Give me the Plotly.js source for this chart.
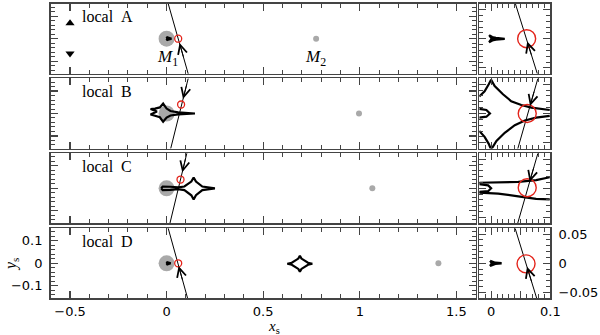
<!DOCTYPE html>
<html>
<head>
<meta charset="utf-8">
<script src="https://cdn.plot.ly/plotly-3.0.1.min.js"></script>
<style>
  html, body { margin: 0; padding: 0; background: #fff; }
  #plot { width: 600px; height: 335px; }
</style>
</head>
<body>
<div id="plot"></div>
<script>
// ---- values ----
const rowNames = ['local A', 'local B', 'local C', 'local D'];
const m1Pos = [0, 0];
const m2X = [0.774, 0.996, 1.065, 1.407];

const srcMainX = [0.06, 0.075, 0.072, 0.06];
const srcMainY = [0.0, 0.04, 0.039, 0.0];
const srcZoomX = [0.06, 0.061, 0.061, 0.059];
const srcZoomY = [0.0, 0.0, 0.001, -0.001];

const trajMainX = [[0.008, 0.112], [0.021, 0.112], [0.017, 0.105], [0.008, 0.109]];
const trajMainY = [[0.157, -0.157], [-0.157, 0.157], [-0.157, 0.157], [0.157, -0.157]];
const trajZoomX = [[0.041, 0.078], [0.044, 0.079], [0.044, 0.079], [0.0405, 0.077]];
const trajZoomY = [[0.06, -0.06], [-0.064, 0.06], [-0.063, 0.06], [0.06, -0.06]];

const arrowMainTip = [[0.067, -0.019], [0.085, 0.065], [0.081, 0.071], [0.062, -0.012]];
const arrowMainTail = [[0.089, -0.087], [0.106, 0.135], [0.1, 0.14], [0.084, -0.08]];
const arrowZoomTip = [[0.061, -0.005], [0.0657, 0.013], [0.065, 0.011], [0.0606, -0.006]];
const arrowZoomTail = [[0.0687, -0.03], [0.0733, 0.04], [0.0727, 0.038], [0.0694, -0.035]];

// planetary caustics of local A (two triangles)
const triX = [-0.5, -0.5];
const triY = [0.069, -0.066];

// central caustics, main panels
const cenAX = [0.026, 0.008, 0.0, 0.004, 0.0, 0.008, 0.026];
const cenAY = [0.0, 0.004, 0.007, 0.0, -0.007, -0.004, 0.0];
const cenDX = [0.022, 0.007, 0.0, 0.004, 0.0, 0.007, 0.022];
const cenDY = [0.0, 0.004, 0.006, 0.0, -0.006, -0.004, 0.0];

const causBX = [0.147, 0.06, 0.02, 0.0, -0.018, -0.035, -0.06, -0.083, -0.05, -0.083, -0.06, -0.035, -0.018, 0.0, 0.02, 0.06, 0.147];
const causBY = [0.0, 0.005, 0.011, 0.022, 0.044, 0.027, 0.022, 0.02, 0.009, -0.004, -0.01, -0.017, -0.037, -0.018, -0.009, -0.004, 0.0];

const causCX = [-0.028, -0.02, 0.02, 0.06, 0.092, 0.128, 0.14, 0.152, 0.185, 0.25, 0.185, 0.152, 0.14, 0.128, 0.092, 0.06, 0.02, -0.02, -0.028];
const causCY = [0.0, 0.008, 0.007, 0.004, 0.008, 0.03, 0.048, 0.03, 0.008, 0.0, -0.008, -0.031, -0.05, -0.031, -0.008, -0.004, -0.007, -0.008, 0.0];

const planDX = [0.755, 0.732, 0.698, 0.69, 0.682, 0.648, 0.625, 0.648, 0.682, 0.69, 0.698, 0.732, 0.755];
const planDY = [-0.002, 0.0025, 0.021, 0.034, 0.021, 0.0025, -0.002, -0.0065, -0.025, -0.038, -0.025, -0.0065, -0.002];

// zoom panels
const zCenAX = [-0.0034, 0.002, 0.008, 0.023, 0.023, 0.008, 0.002, -0.0034, 0.001, -0.0034];
const zCenAY = [0.006, 0.003, 0.0015, 0.0004, -0.0004, -0.0015, -0.003, -0.006, 0.0, 0.006];
const zCenDX = [-0.0017, 0.003, 0.007, 0.016, 0.016, 0.007, 0.003, -0.0017, 0.001, -0.0017];
const zCenDY = [0.0045, 0.002, 0.001, 0.0004, -0.0004, -0.001, -0.002, -0.0045, 0.0, 0.0045];

const zBUpX = [-0.02, -0.011, -0.004, 0.0, 0.006, 0.02, 0.034, 0.051, 0.068, 0.099];
const zBUpY = [0.029, 0.038, 0.05, 0.058, 0.047, 0.033, 0.021, 0.0145, 0.01, 0.006];
const zBLoX = [-0.02, -0.011, -0.004, 0.0, 0.009, 0.023, 0.04, 0.057, 0.076, 0.099];
const zBLoY = [-0.03, -0.04, -0.052, -0.062, -0.047, -0.033, -0.02, -0.012, -0.007, -0.004];
const zBInX = [-0.02, -0.008, -0.002, -0.008, -0.02];
const zBInY = [0.008, 0.006, 0.0, -0.0055, -0.007];

const zCUpX = [-0.02, 0.012, 0.046, 0.076, 0.099];
const zCUpY = [0.0095, 0.01, 0.011, 0.014, 0.019];
const zCLoX = [-0.02, 0.012, 0.046, 0.076, 0.099];
const zCLoY = [-0.0075, -0.009, -0.0137, -0.018, -0.019];
const zCInX = [-0.02, -0.005, 0.0, -0.005, -0.02];
const zCInY = [0.007, 0.005, 0.0, -0.005, -0.006];

const mainCaustics = [
  [{x: cenAX, y: cenAY, fill: true}],
  [{x: causBX, y: causBY, fill: false}],
  [{x: causCX, y: causCY, fill: false}],
  [{x: cenDX, y: cenDY, fill: true}, {x: planDX, y: planDY, fill: false}]
];
const zoomCaustics = [
  [{x: zCenAX, y: zCenAY, fill: true}],
  [{x: zBUpX, y: zBUpY}, {x: zBLoX, y: zBLoY}, {x: zBInX, y: zBInY}],
  [{x: zCUpX, y: zCUpY}, {x: zCLoX, y: zCLoY}, {x: zCInX, y: zCInY}],
  [{x: zCenDX, y: zCenDY, fill: true}]
];

// ---- layout geometry ----
const leftDom = [0.0845, 0.7928];
const rightDom = [0.7988, 0.9172];
const rowDom = [[0.78, 0.989], [0.5567, 0.7657], [0.3334, 0.5424], [0.1096, 0.3185]];

const frame = '#444';
const tickFont = {family: 'DejaVu Sans', size: 13, color: '#000'};
const serif = 'Liberation Serif';

function axis(domain, anchor, extra) {
  return Object.assign({
    domain: domain, anchor: anchor, showline: true, mirror: 'allticks',
    linecolor: frame, linewidth: 1.6, ticks: 'inside', ticklen: 7, tickwidth: 1.2,
    tickcolor: frame, showgrid: false, zeroline: false, showticklabels: false,
    tickfont: tickFont, fixedrange: true,
    minor: {ticks: 'inside', ticklen: 4, tickwidth: 1, tickcolor: frame, showgrid: false}
  }, extra);
}

const data = [];
const layout = {
  width: 600, height: 335, margin: {l: 0, r: 0, t: 0, b: 0},
  paper_bgcolor: '#fff', plot_bgcolor: '#fff', showlegend: false,
  annotations: []
};

rowNames.forEach((name, i) => {
  const L = 2 * i + 1, R = 2 * i + 2;
  const xl = L === 1 ? 'x' : 'x' + L, yl = L === 1 ? 'y' : 'y' + L;
  const xr = 'x' + R, yr = 'y' + R;
  const last = i === 3;

  layout['xaxis' + (L === 1 ? '' : L)] = axis(leftDom, yl, {
    range: [-0.6, 1.6], tick0: 0, dtick: 0.5, minor: Object.assign({}, axis().minor, {dtick: 0.1}),
    showticklabels: last, ticklabelstandoff: 1
  });
  layout['yaxis' + (L === 1 ? '' : L)] = axis(rowDom[i], xl, {
    range: [-0.156, 0.156], tick0: 0, dtick: 0.1, minor: Object.assign({}, axis().minor, {dtick: 0.02}),
    showticklabels: last, ticklabelstandoff: 4
  });
  layout['xaxis' + R] = axis(rightDom, yr, {
    range: [-0.02, 0.1], tickvals: [0, 0.05, 0.1], ticktext: ['0', '', '0.1'],
    minor: Object.assign({}, axis().minor, {dtick: 0.01, tick0: 0}),
    showticklabels: last, ticklabelstandoff: 1
  });
  layout['yaxis' + R] = axis(rowDom[i], xr, {
    range: [-0.06, 0.06], tick0: 0, dtick: 0.05, side: 'right',
    minor: Object.assign({}, axis().minor, {dtick: 0.01, tick0: 0}),
    showticklabels: last, ticklabelstandoff: 4
  });

  // main panel
  data.push({x: [m1Pos[0]], y: [m1Pos[1]], xaxis: xl, yaxis: yl, mode: 'markers',
    marker: {size: 16, color: '#a9a9a9'}, hoverinfo: 'skip'});
  data.push({x: [m2X[i]], y: [0], xaxis: xl, yaxis: yl, mode: 'markers',
    marker: {size: 6, color: '#a9a9a9'}, hoverinfo: 'skip'});
  mainCaustics[i].forEach(c => data.push({x: c.x, y: c.y, xaxis: xl, yaxis: yl, mode: 'lines',
    line: {color: '#000', width: 2.2}, fill: c.fill ? 'toself' : 'none', fillcolor: '#000', hoverinfo: 'skip'}));
  if (i === 0) {
    data.push({x: triX, y: triY, xaxis: xl, yaxis: yl, mode: 'markers',
      marker: {size: 8, color: '#000', symbol: ['triangle-up', 'triangle-down']}, hoverinfo: 'skip'});
  }
  data.push({x: trajMainX[i], y: trajMainY[i], xaxis: xl, yaxis: yl, mode: 'lines',
    line: {color: '#000', width: 1}, hoverinfo: 'skip'});
  data.push({x: [srcMainX[i]], y: [srcMainY[i]], xaxis: xl, yaxis: yl, mode: 'markers',
    marker: {size: 7, symbol: 'circle-open', color: '#e3241b', line: {width: 1.3, color: '#e3241b'}}, hoverinfo: 'skip'});

  // zoom panel
  zoomCaustics[i].forEach(c => data.push({x: c.x, y: c.y, xaxis: xr, yaxis: yr, mode: 'lines',
    line: {color: '#000', width: 2.2}, fill: c.fill ? 'toself' : 'none', fillcolor: '#000', hoverinfo: 'skip'}));
  data.push({x: trajZoomX[i], y: trajZoomY[i], xaxis: xr, yaxis: yr, mode: 'lines',
    line: {color: '#000', width: 1}, hoverinfo: 'skip'});
  data.push({x: [srcZoomX[i]], y: [srcZoomY[i]], xaxis: xr, yaxis: yr, mode: 'markers',
    marker: {size: 18, symbol: 'circle-open', color: '#e3241b', line: {width: 1.4, color: '#e3241b'}}, hoverinfo: 'skip'});

  // arrow heads
  layout.annotations.push({xref: xl, yref: yl, axref: xl, ayref: yl,
    x: arrowMainTip[i][0], y: arrowMainTip[i][1], ax: arrowMainTail[i][0], ay: arrowMainTail[i][1],
    text: '', showarrow: true, arrowhead: 5, arrowsize: 1.8, arrowwidth: 1, arrowcolor: '#000'});
  layout.annotations.push({xref: xr, yref: yr, axref: xr, ayref: yr,
    x: arrowZoomTip[i][0], y: arrowZoomTip[i][1], ax: arrowZoomTail[i][0], ay: arrowZoomTail[i][1],
    text: '', showarrow: true, arrowhead: 5, arrowsize: 1.8, arrowwidth: 1, arrowcolor: '#000'});

  // panel label
  layout.annotations.push({xref: xl + ' domain', yref: yl + ' domain', x: 0.07, y: 0.81,
    xanchor: 'left', yanchor: 'middle', showarrow: false,
    text: name.replace(' ', '\u00a0\u00a0'), font: {family: serif, size: 16, color: '#000'}});
});

// mass labels (row A)
layout.annotations.push({xref: 'x', yref: 'y', x: 0.005, y: -0.085, showarrow: false,
  text: '<i>M</i><sub>1</sub>', font: {family: serif, size: 17, color: '#000'}});
layout.annotations.push({xref: 'x', yref: 'y', x: 0.77, y: -0.085, showarrow: false,
  text: '<i>M</i><sub>2</sub>', font: {family: serif, size: 17, color: '#000'}});

// axis titles
layout.annotations.push({xref: 'paper', yref: 'paper', x: 0.457, y: -0.008, yanchor: 'bottom', showarrow: false,
  text: '<i>x</i><sub>s</sub>', font: {family: serif, size: 15, color: '#000'}});
layout.annotations.push({xref: 'paper', yref: 'paper', x: 0, xanchor: 'left', y: 0.185, showarrow: false,
  textangle: -90, text: '<i>y</i><sub>s</sub>', font: {family: serif, size: 16, color: '#000'}});

Plotly.newPlot('plot', data, layout, {staticPlot: true, displayModeBar: false});
</script>
</body>
</html>
